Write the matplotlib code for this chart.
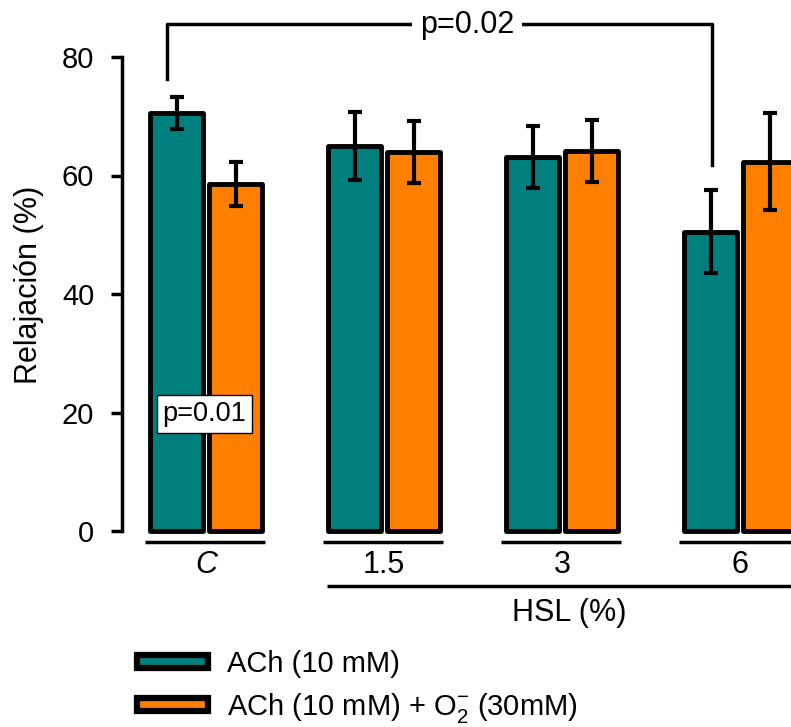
import numpy as np
import matplotlib
matplotlib.use('Agg')
import matplotlib.pyplot as plt
from matplotlib.patches import Patch

plt.rcParams['font.family'] = ['Liberation Sans', 'DejaVu Sans']
plt.rcParams['mathtext.fontset'] = 'custom'
plt.rcParams['mathtext.rm'] = 'Liberation Sans'
plt.rcParams['mathtext.it'] = 'Liberation Sans:italic'

''' data read off the picture '''
groups = ['C', '1.5', '3', '6']
ach = [70.5, 65.0, 63.1, 50.5]
ach_err = [2.7, 5.8, 5.2, 7.0]
ach_o2 = [58.6, 64.0, 64.1, 62.3]
ach_o2_err = [3.7, 5.2, 5.2, 8.2]
labels = ['ACh (10 mM)', 'ACh (10 mM) + O$_2^{-}$ (30mM)']

teal = '#007f7f'
orange = '#ff7f00'

fig = plt.figure(figsize=(7.91, 7.27), dpi=100)
# axes box in pixels: x 122..791, y 10..560
ax = fig.add_axes([122/791, 1 - 560/727, 669/791, 550/727])
ppu = 5.925  # pixels per unit on y
ax.set_ylim(-29/ppu, 80 + 47/ppu)
ax.set_xlim(-84/178, 585/178)

def py(p):
    # pixel row -> data y
    return (531 - p)/ppu

def px(p):
    # pixel column -> data x
    return (p - 206)/178

x = np.arange(len(groups))
w = 53/178
off = 29.5/178
kw = dict(edgecolor='black', linewidth=3.5, joinstyle='round')
ax.bar(x - off, ach, w, color=teal, **kw)
ax.bar(x + off, ach_o2, w, color=orange, **kw)
ekw = dict(fmt='none', ecolor='black', elinewidth=3, capsize=5, capthick=3)
ax.errorbar(x - off, ach, yerr=ach_err, **ekw)
ax.errorbar(x + off, ach_o2, yerr=ach_o2_err, **ekw)

for s in ['top', 'right', 'bottom']:
    ax.spines[s].set_visible(False)
ax.spines['left'].set_linewidth(2.5)
ax.spines['left'].set_bounds(0, 80)
ax.set_yticks([0, 20, 40, 60, 80])
ax.tick_params(axis='y', labelsize=21, width=2.5, length=8, direction='out', pad=12)
ax.set_xticks([])
ax.set_ylabel('Relajación (%)', fontsize=22, labelpad=13)

# group underlines and labels
for i, g in enumerate(groups):
    ax.plot([i - 0.345, i + 0.33], [py(541.5)]*2, color='black', lw=2.5,
            clip_on=False, solid_capstyle='butt')
    ax.text(i, py(565), g, ha='center', va='center', fontsize=22,
            style='italic' if g == 'C' else 'normal')
ax.plot([px(327), 3.4], [py(585.5)]*2, color='black', lw=2.5, clip_on=False,
        solid_capstyle='butt')
ax.text(px(569), py(613), 'HSL (%)', ha='center', va='center', fontsize=22)

# significance bracket
xl = px(167)
xr = px(712)
ax.plot([xl, xl, xr, xr], [py(79), py(24), py(24), py(165)],
        color='black', lw=2.5, clip_on=False)
ax.text(px(467), py(25), 'p=0.02', ha='center', va='center', fontsize=22,
        bbox=dict(facecolor='white', edgecolor='none', pad=6))
ax.text(px(204.5), py(414), 'p=0.01', ha='center', va='center', fontsize=19.5,
        bbox=dict(facecolor='white', edgecolor='black', linewidth=1, pad=4))

handles = [Patch(facecolor=teal, edgecolor='black', linewidth=4.5, joinstyle='round'),
           Patch(facecolor=orange, edgecolor='black', linewidth=4.5, joinstyle='round')]
fig.legend(handles, labels, loc='upper left', bbox_to_anchor=(137/791, 1 - 650/727),
           frameon=False, fontsize=21, handlelength=2.45, handleheight=0.3,
           handletextpad=0.62, labelspacing=0.45, borderpad=0, borderaxespad=0)

fig.savefig('out.png', dpi=100)
